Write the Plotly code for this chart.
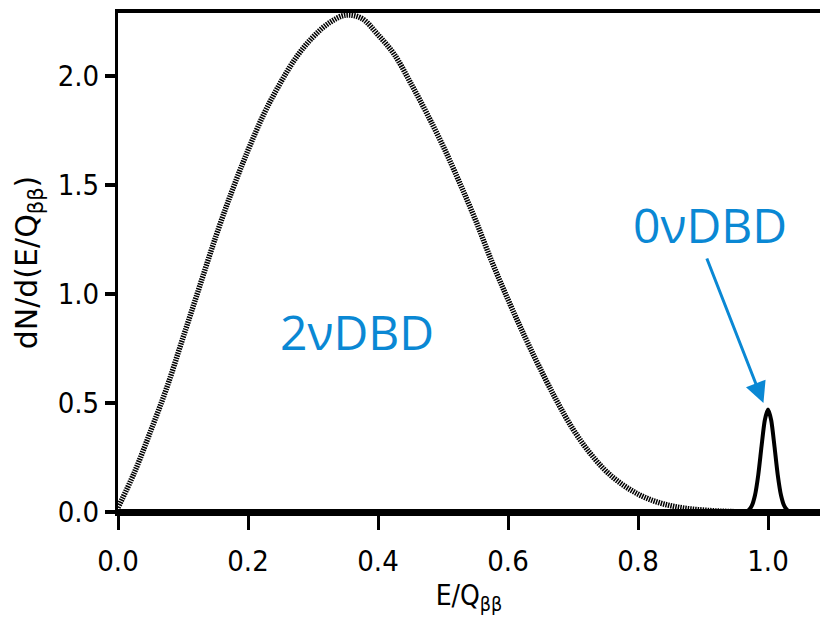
import plotly.graph_objects as go

# 2νDBD continuous spectrum
e2 = [0.000, 0.025, 0.050, 0.075, 0.100, 0.125, 0.150, 0.175, 0.200, 0.225,
      0.250, 0.275, 0.300, 0.325, 0.350, 0.375, 0.400, 0.425, 0.450, 0.475,
      0.500, 0.525, 0.550, 0.575, 0.600, 0.625, 0.650, 0.675, 0.700, 0.725,
      0.750, 0.775, 0.800, 0.825, 0.850, 0.875, 0.900, 0.925, 0.950, 0.975, 1.000]
n2 = [0.02, 0.18, 0.37, 0.57, 0.80, 1.03, 1.26, 1.47, 1.66, 1.83,
      1.97, 2.09, 2.18, 2.245, 2.28, 2.265, 2.19, 2.10, 1.97, 1.83,
      1.68, 1.515, 1.34, 1.15, 0.975, 0.81, 0.655, 0.51, 0.38, 0.275,
      0.19, 0.128, 0.082, 0.05, 0.029, 0.016, 0.009, 0.004, 0.0015, 0.0004, 0.0]

# 0νDBD peak
e0 = [0.0, 0.95, 0.965, 0.97, 0.975, 0.98, 0.985, 0.99, 0.995, 1.0,
      1.005, 1.01, 1.015, 1.02, 1.025, 1.03, 1.035, 1.05, 1.08]
n0 = [0.0, 0.0, 0.002, 0.008, 0.028, 0.077, 0.17, 0.30, 0.42, 0.47,
      0.42, 0.30, 0.17, 0.077, 0.028, 0.008, 0.002, 0.0, 0.0]

xticks = [0.0, 0.2, 0.4, 0.6, 0.8, 1.0]
yticks = [0.0, 0.5, 1.0, 1.5, 2.0]

blue = "rgb(10,136,212)"
condensed = "DejaVu Sans Condensed, Liberation Sans Narrow, Roboto"
tickfont = dict(family=condensed, size=29, color="black")

fig = go.Figure()
fig.add_trace(go.Scatter(x=e2, y=n2, mode="lines",
                         line=dict(color="black", width=5.5, dash="1.5px,1px", shape="spline", smoothing=1.0),
                         showlegend=False, hoverinfo="skip"))
fig.add_trace(go.Scatter(x=e0, y=n0, mode="lines",
                         line=dict(color="black", width=4, shape="spline", smoothing=0.6),
                         showlegend=False, hoverinfo="skip", cliponaxis=False))

fig.add_annotation(x=0.368, y=0.83, text="2νDBD", showarrow=False,
                   font=dict(family="Open Sans, Noto Sans", size=48, color=blue))
fig.add_annotation(x=0.911, y=1.32, text="0νDBD", showarrow=False,
                   font=dict(family="Open Sans, Noto Sans", size=48, color=blue))
fig.add_annotation(x=0.993, y=0.50, ax=0.905, ay=1.17, axref="x", ayref="y", xref="x", yref="y",
                   text="", showarrow=True, arrowhead=2, arrowsize=1.4, arrowwidth=3, arrowcolor=blue)

# thick bottom frame line
fig.add_shape(type="line", xref="paper", yref="paper", x0=0, x1=1, y0=0, y1=0,
              line=dict(color="black", width=6), layer="above")

fig.update_layout(
    width=820, height=624,
    margin=dict(l=118, r=0, t=13, b=112),
    paper_bgcolor="white", plot_bgcolor="white",
    xaxis=dict(range=[0, 1.08], tickvals=xticks, tickformat=".1f", showgrid=False, zeroline=False,
               showline=True, linecolor="black", linewidth=4, mirror=True,
               ticks="outside", ticklen=14, tickwidth=3, tickcolor="black", tickfont=tickfont,
               ticklabelstandoff=6,
               title=dict(text="E/Q<sub>ββ</sub>", font=dict(family=condensed, size=28, color="black"), standoff=10)),
    yaxis=dict(range=[0, 2.29], tickvals=yticks, tickformat=".1f", showgrid=False, zeroline=False,
               showline=True, linecolor="black", linewidth=3,
               ticks="outside", ticklen=10, tickwidth=4, tickcolor="black", tickfont=tickfont,
               title=dict(text="dN/d(E/Q<sub>ββ</sub>)", font=dict(family="DejaVu Sans, Open Sans", size=30, color="black"), standoff=12)),
)

fig.write_html("out.html")
